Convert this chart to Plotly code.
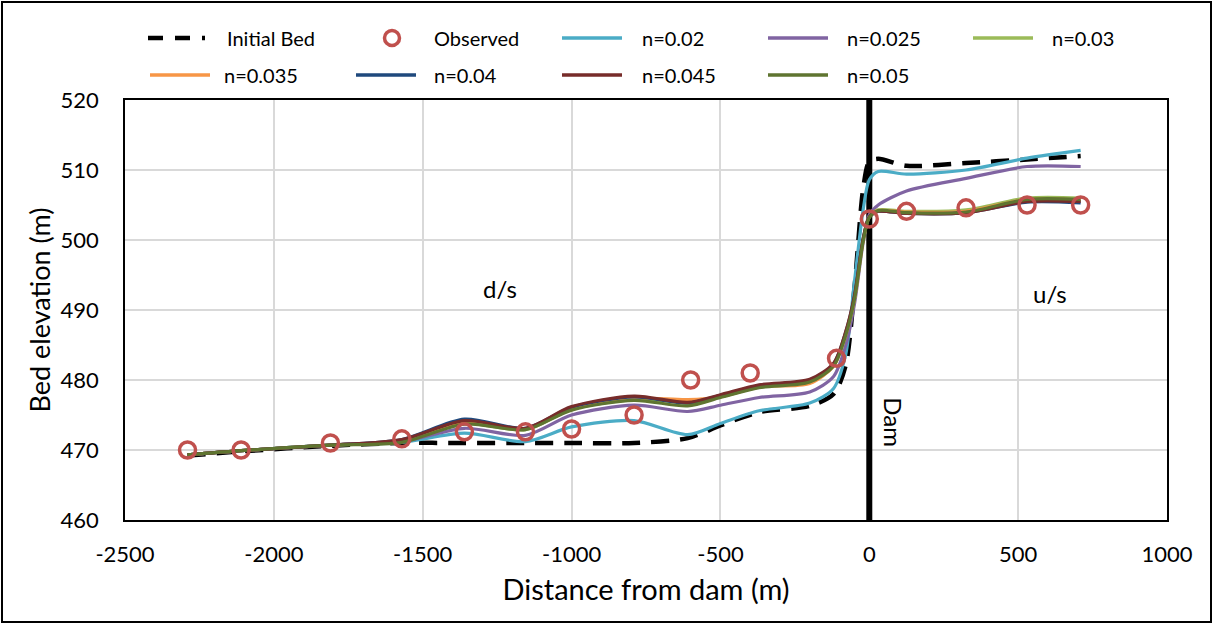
import plotly.graph_objects as go

# ---- data -------------------------------------------------------------
# chainage along the reach (m, negative = downstream of the dam)
x_sim = [-2290, -2110, -1810, -1570, -1360, -1155, -1000, -790, -610, -500,
         -370, -200, -120, -80, -50, -20, 0, 30, 125, 325, 530, 710]

initial_bed = [469.2, 469.8, 470.6, 471.0, 471.0, 471.0, 471.0, 471.0, 471.7, 473.5,
               475.4, 476.3, 478.0, 482.0, 493.0, 507.5, 511.2, 511.6, 510.6, 511.0, 511.5, 512.0]

n_002 = [469.3, 469.9, 470.7, 471.1, 472.4, 471.2, 473.3, 474.2, 472.2, 473.8,
         475.6, 476.7, 478.8, 483.5, 494.0, 504.5, 508.6, 509.8, 509.4, 510.0, 511.7, 512.8]
n_0025 = [469.3, 469.9, 470.7, 471.2, 473.1, 472.1, 475.0, 476.4, 475.5, 476.4,
          477.5, 478.3, 480.5, 484.8, 490.8, 499.8, 503.6, 505.0, 507.0, 508.8, 510.5, 510.5]
n_003 = [469.3, 469.9, 470.7, 471.2, 473.8, 472.9, 475.8, 477.2, 476.9, 477.6,
         479.0, 479.7, 482.0, 486.3, 491.5, 500.0, 503.3, 504.3, 504.1, 504.3, 506.0, 506.0]
n_0035 = [469.3, 469.9, 470.7, 471.3, 473.9, 473.0, 475.9, 477.4, 477.2, 477.6,
          479.0, 479.5, 482.0, 486.4, 491.6, 500.1, 503.3, 504.2, 504.0, 504.1, 505.8, 505.7]
n_004 = [469.3, 469.9, 470.7, 471.5, 474.4, 473.1, 476.1, 477.6, 476.7, 477.8,
         479.2, 480.0, 482.3, 486.7, 491.9, 500.3, 503.3, 504.1, 503.8, 503.9, 505.4, 505.3]
n_0045 = [469.3, 469.9, 470.7, 471.5, 474.2, 473.1, 476.2, 477.7, 476.8, 477.9,
          479.3, 480.1, 482.4, 486.8, 492.0, 500.3, 503.3, 504.1, 503.8, 503.9, 505.5, 505.5]
n_005 = [469.3, 469.9, 470.7, 471.1, 473.7, 472.9, 475.7, 477.1, 476.3, 477.5,
         478.9, 479.7, 482.0, 486.3, 491.5, 500.0, 503.2, 504.2, 503.9, 504.0, 505.8, 505.8]

x_obs = [-2290, -2110, -1810, -1570, -1360, -1155, -1000, -790, -600, -400,
         -110, 0, 125, 325, 530, 710]
y_obs = [470.0, 470.0, 471.0, 471.6, 472.6, 472.6, 473.0, 475.0, 480.0, 481.0,
         483.1, 503.0, 504.1, 504.6, 505.0, 505.0]

series_names = ["n=0.02", "n=0.025", "n=0.03", "n=0.035", "n=0.04", "n=0.045", "n=0.05"]
series_vals = [n_002, n_0025, n_003, n_0035, n_004, n_0045, n_005]
series_colors = ["#4BACC6", "#8064A2", "#9BBB59", "#F79646", "#1F497D", "#772C2A", "#5F7530"]

x_ticks = [-2500, -2000, -1500, -1000, -500, 0, 500, 1000]
x_tick_labels = ["-2500", "-2000", "-1500", "-1000", "-500", "0", "500", "1000"]
y_ticks = [460, 470, 480, 490, 500, 510, 520]

# ---- figure -----------------------------------------------------------
FONT = "Lato"
W, H = 1214, 626
ML, MR, MT, MB = 125, 47, 100, 106
PW, PH = W - ML - MR, H - MT - MB
BED_DASH = "18px,11px"
OBS_COLOR = "#C0504D"


def px_x(p):
    return (p - ML) / PW


def px_y(p):
    return (H - MB - p) / PH


fig = go.Figure()

fig.add_trace(go.Scatter(
    x=x_sim, y=initial_bed, mode="lines", name="Initial Bed",
    line=dict(color="black", width=4.5, dash=BED_DASH, shape="spline", smoothing=0.8),
    showlegend=False))

for name, vals, col in zip(series_names, series_vals, series_colors):
    fig.add_trace(go.Scatter(
        x=x_sim, y=vals, mode="lines", name=name,
        line=dict(color=col, width=3.2, shape="spline", smoothing=0.8),
        showlegend=False))

fig.add_trace(go.Scatter(
    x=x_obs, y=y_obs, mode="markers", name="Observed",
    marker=dict(symbol="circle-open", size=16, color=OBS_COLOR,
                line=dict(color=OBS_COLOR, width=3.5)),
    showlegend=False))

shapes = []
annotations = []

# dam axis
shapes.append(dict(type="line", xref="x", yref="y", x0=0, x1=0, y0=460, y1=520,
                   line=dict(color="black", width=6), layer="between"))

# outer frame
shapes.append(dict(type="rect", xref="paper", yref="paper",
                   x0=px_x(2), x1=px_x(1211), y0=px_y(622), y1=px_y(2),
                   line=dict(color="black", width=2)))

# legend drawn as two rows of five slots
row_y = [38, 75]
legend_items = [
    # (row, symbol px, text px, kind, colour, label)
    (0, 148, 225, "bed", "black", "Initial Bed"),
    (0, 392, 432, "obs", OBS_COLOR, "Observed"),
    (0, 562, 640, "line", series_colors[0], series_names[0]),
    (0, 768, 845, "line", series_colors[1], series_names[1]),
    (0, 973, 1050, "line", series_colors[2], series_names[2]),
    (1, 150, 222, "line", series_colors[3], series_names[3]),
    (1, 356, 432, "line", series_colors[4], series_names[4]),
    (1, 562, 640, "line", series_colors[5], series_names[5]),
    (1, 768, 845, "line", series_colors[6], series_names[6]),
]
for row, lx, tx, kind, col, label in legend_items:
    yy = px_y(row_y[row])
    if kind == "bed":
        shapes.append(dict(type="line", xref="paper", yref="paper",
                           x0=px_x(lx), x1=px_x(lx + 57), y0=yy, y1=yy,
                           line=dict(color=col, width=4.5, dash="15px,12px")))
    elif kind == "obs":
        shapes.append(dict(type="circle", xref="paper", yref="paper",
                           xsizemode="pixel", ysizemode="pixel",
                           xanchor=px_x(lx), yanchor=yy,
                           x0=-7.5, x1=7.5, y0=-7.5, y1=7.5,
                           line=dict(color=col, width=3.5)))
    else:
        shapes.append(dict(type="line", xref="paper", yref="paper",
                           x0=px_x(lx), x1=px_x(lx + 60), y0=yy, y1=yy,
                           line=dict(color=col, width=3.5)))
    annotations.append(dict(x=px_x(tx), y=yy, xref="paper", yref="paper",
                            text=label, showarrow=False, xanchor="left", yanchor="middle",
                            font=dict(family=FONT, size=20, color="black")))

# reach labels
annotations += [
    dict(x=-1240, y=493.1, xref="x", yref="y", text="d/s", showarrow=False,
         font=dict(family=FONT, size=24, color="black")),
    dict(x=608, y=492.4, xref="x", yref="y", text="u/s", showarrow=False,
         font=dict(family=FONT, size=24, color="black")),
    dict(x=81, y=473.9, xref="x", yref="y", text="Dam", showarrow=False, textangle=90,
         font=dict(family=FONT, size=24, color="black")),
]

axis_common = dict(showline=True, mirror=True, linecolor="black", linewidth=1.5,
                   showgrid=True, gridcolor="#D9D9D9", gridwidth=1.5, zeroline=False,
                   ticks="outside", tickcolor="rgba(0,0,0,0)",
                   tickfont=dict(family=FONT, size=22, color="black"))

fig.update_layout(
    width=W, height=H,
    margin=dict(l=ML, r=MR, t=MT, b=MB),
    paper_bgcolor="white", plot_bgcolor="white",
    showlegend=False,
    shapes=shapes, annotations=annotations,
    xaxis=dict(range=[-2500, 1000], tickvals=x_ticks, ticktext=x_tick_labels, ticklen=14,
               title=dict(text="Distance from dam (m)", standoff=14,
                          font=dict(family=FONT, size=29, color="black")),
               **axis_common),
    yaxis=dict(range=[460, 520], tickvals=y_ticks, ticklen=20,
               title=dict(text="Bed elevation (m)", standoff=2,
                          font=dict(family=FONT, size=27, color="black")),
               **axis_common),
)

fig.write_html("out.html")
